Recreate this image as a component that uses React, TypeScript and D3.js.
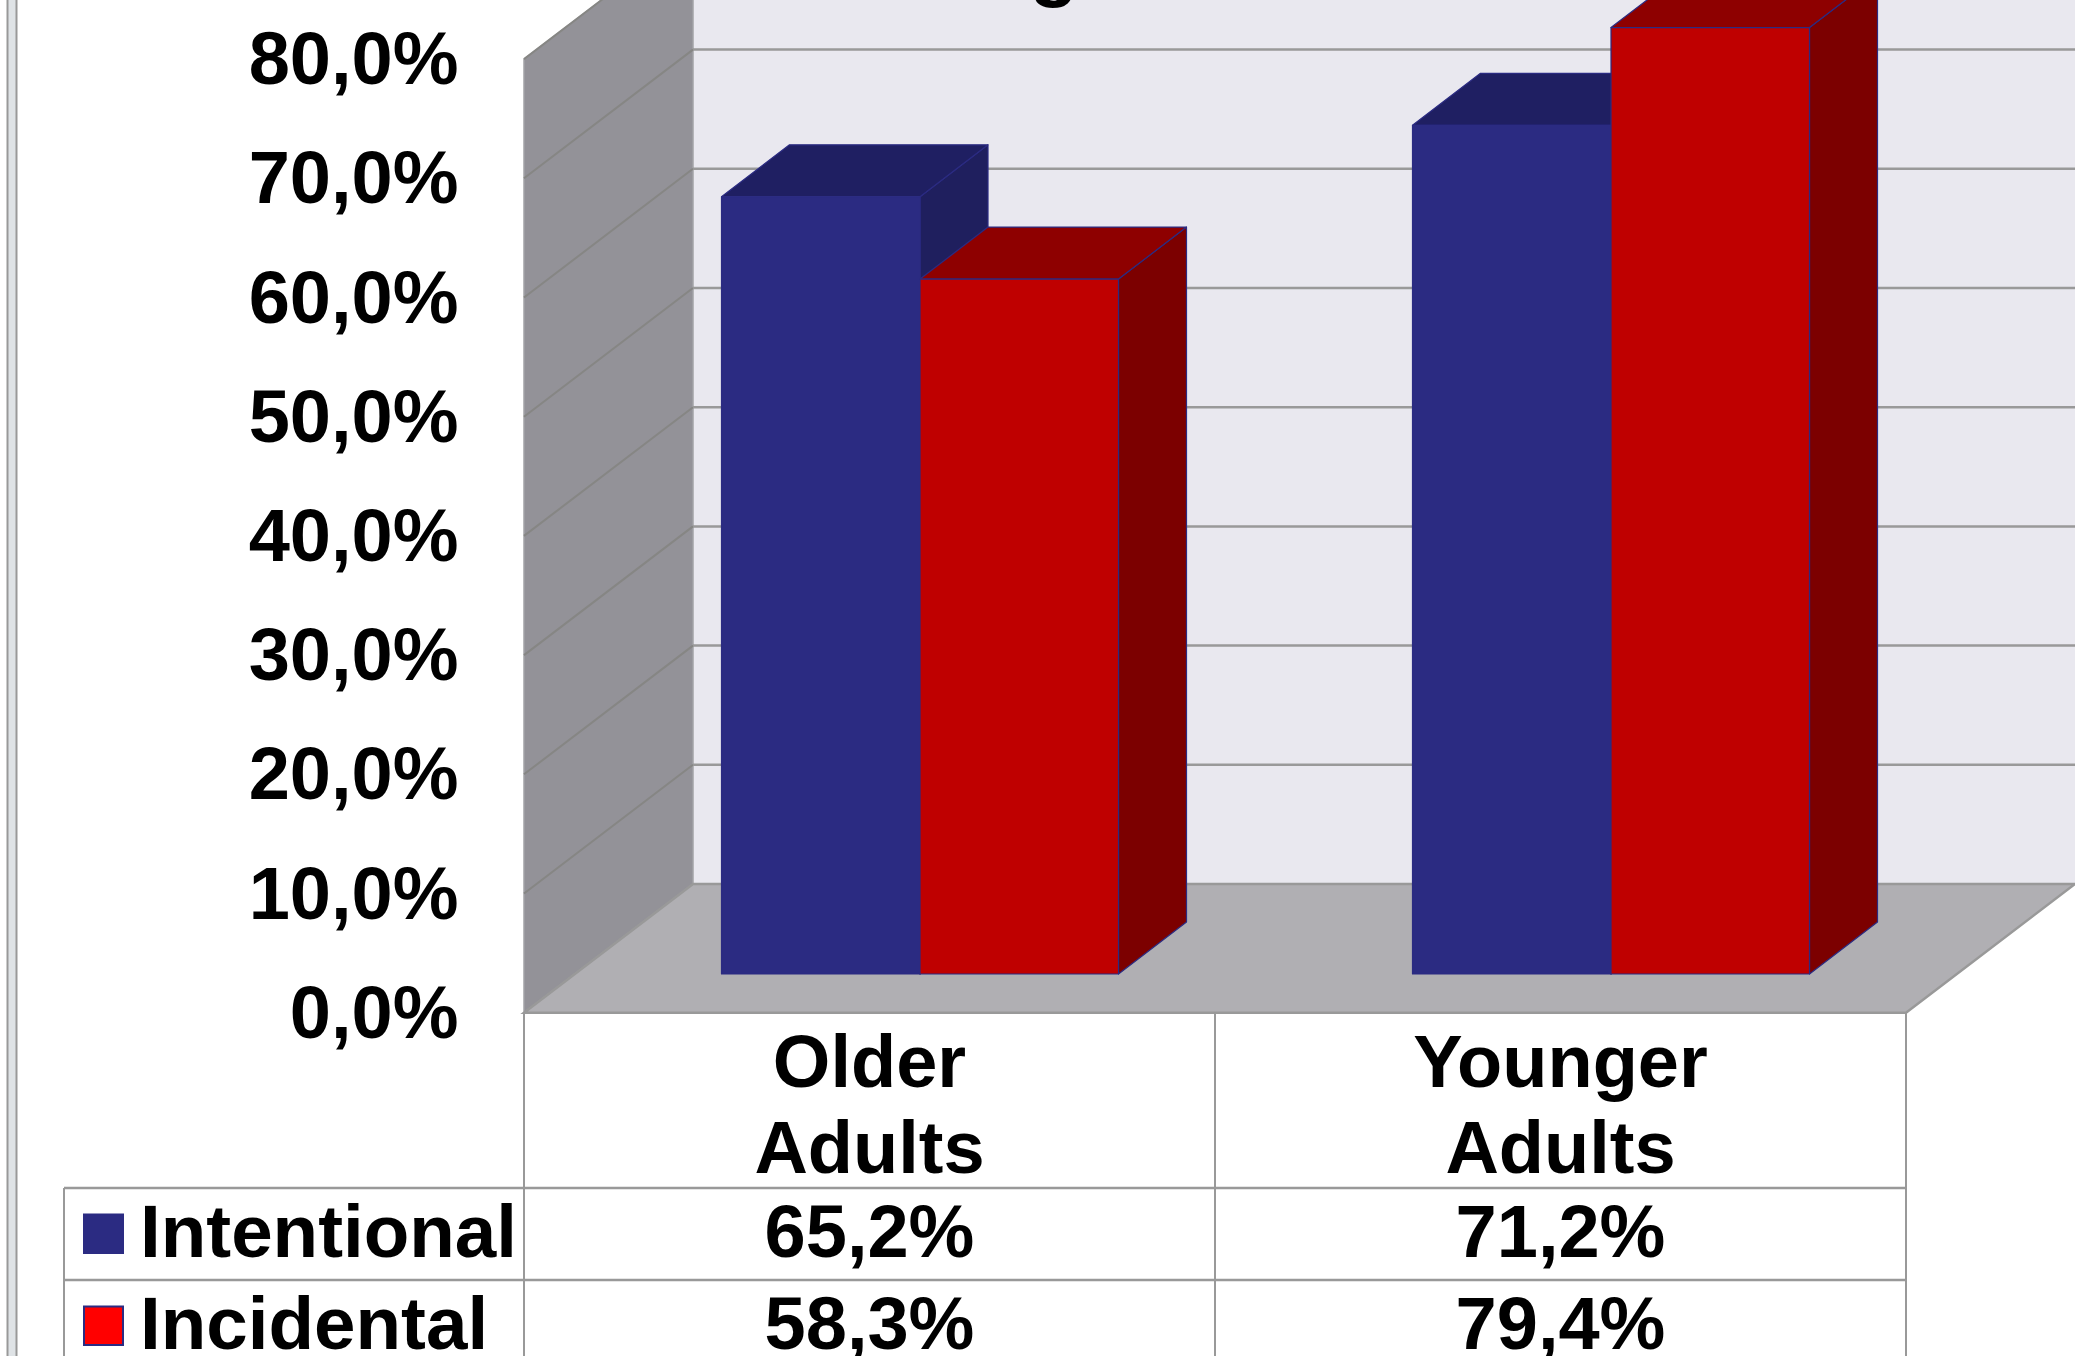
import React from "react";
import * as d3 from "d3";

const categories = [["Older", "Adults"], ["Younger", "Adults"]];
const categoryKeys = ["Older Adults", "Younger Adults"];
const seriesNames = ["Intentional", "Incidental"];
const intentional = [65.2, 71.2];
const incidental = [58.3, 79.4];
const ticks = [0, 10, 20, 30, 40, 50, 60, 70, 80];
const valueLabels = [["65,2%", "71,2%"], ["58,3%", "79,4%"]];

const W = 2075, H = 1356;
const FONT = "'Liberation Sans', Arial, sans-serif";
const FS = 74;
const left = 524, right = 1906, y0 = 1012.7;
const wallDx = 169, wallDy = 128.7;
const barDx = 68, barDy = 52;
const barInset = 38.7, barShift = 50.5, barW = 198.5;
const GRID = "#999999";

const palette = [
  { front: "#2b2b82", top: "#1f1f62", side: "#1f1f5e", key: "#2b2b82" },
  { front: "#bf0000", top: "#8e0000", side: "#7c0000", key: "#ff0000" },
];

const y = d3.scaleLinear().domain([0, 80]).range([y0, y0 - 8 * 119.2]);
const x = d3.scaleBand<string>().domain(categoryKeys).range([left, right]);
const sx = d3.scaleBand<string>().domain(seriesNames).range([-barW, barW]);
const pts = (p: number[][]) => p.map((q) => q.join(",")).join(" ");

function Bar({ cat, si, value }: { cat: string; si: number; value: number }) {
  const c = palette[si];
  const x0 = x(cat)! + x.bandwidth() / 2 + barShift + sx(seriesNames[si])!;
  const x1 = x0 + sx.bandwidth();
  const b = y(0) - barInset;
  const t = y(value) - barInset;
  const stroke = { stroke: "#2b2b82", strokeWidth: 1.2, strokeLinejoin: "round" as const };
  return (
    <g>
      <polygon points={pts([[x1, t], [x1 + barDx, t - barDy], [x1 + barDx, b - barDy], [x1, b]])} fill={c.side} {...stroke} />
      <polygon points={pts([[x0, t], [x0 + barDx, t - barDy], [x1 + barDx, t - barDy], [x1, t]])} fill={c.top} {...stroke} />
      <rect x={x0} y={t} width={x1 - x0} height={b - t} fill={c.front} {...stroke} />
    </g>
  );
}

export default function App() {
  const text = { fontFamily: FONT, fontWeight: 700, fontSize: FS, fill: "#000" };
  const rowY = [1188, 1280];
  const baseY = [1257, 1349];
  return (
    <svg width={W} height={H} viewBox={`0 0 ${W} ${H}`} style={{ position: "absolute", left: 0, top: 0, display: "block", background: "#fff" }}>
      {/* slide frame */}
      <rect x={7.5} y={-2} width={9} height={H + 4} fill="#dfe3e6" stroke="#999" strokeWidth={2} />

      {/* back wall */}
      <rect x={left + wallDx} y={-2} width={W} height={y0 - wallDy + 2} fill="#e9e8ef" />
      {/* left wall */}
      <polygon
        points={pts([[left, y(80)], [left + wallDx, y(80) - wallDy], [left + wallDx, y0 - wallDy], [left, y0]])}
        fill="#939298" stroke="#a3a3a6" strokeWidth={1.5}
      />
      {ticks.slice(1).map((t) => (
        <g key={t}>
          <line x1={left} x2={left + wallDx} y1={y(t)} y2={y(t) - wallDy} stroke="#868684" strokeWidth={2} />
          <line x1={left + wallDx} x2={W} y1={y(t) - wallDy} y2={y(t) - wallDy} stroke={GRID} strokeWidth={2.5} />
        </g>
      ))}
      {/* floor */}
      <polygon
        points={pts([[left, y0], [left + wallDx, y0 - wallDy], [right + wallDx, y0 - wallDy], [right, y0]])}
        fill="#b0afb3" stroke={GRID} strokeWidth={2.5}
      />

      {/* bars */}
      {categoryKeys.map((cat, ci) => (
        <g key={cat}>
          <Bar cat={cat} si={0} value={intentional[ci]} />
          <Bar cat={cat} si={1} value={incidental[ci]} />
        </g>
      ))}

      {/* y-axis labels */}
      {ticks.map((t) => (
        <text key={t} x={458.5} y={y(t) + 25} textAnchor="end" {...text}>
          {d3.format(".1f")(t).replace(".", ",")}%
        </text>
      ))}

      {/* data table grid */}
      <line x1={left} x2={left} y1={y0} y2={H} stroke={GRID} strokeWidth={2} />
      {categoryKeys.map((cat) => (
        <line key={cat} x1={x(cat)! + x.bandwidth()} x2={x(cat)! + x.bandwidth()} y1={y0} y2={H} stroke={GRID} strokeWidth={2} />
      ))}
      <line x1={x(categoryKeys[1])!} x2={x(categoryKeys[1])!} y1={y0} y2={H} stroke={GRID} strokeWidth={2} />
      <line x1={64} x2={64} y1={rowY[0]} y2={H} stroke={GRID} strokeWidth={2} />
      {rowY.map((r) => (
        <line key={r} x1={64} x2={right} y1={r} y2={r} stroke={GRID} strokeWidth={2.5} />
      ))}

      {/* category labels */}
      {categories.map((lines, ci) => {
        const cx = x(categoryKeys[ci])! + x.bandwidth() / 2;
        return lines.map((l, li) => (
          <text key={l + ci} x={cx} y={1087 + li * 85.5} textAnchor="middle" {...text}>{l}</text>
        ));
      })}

      {/* legend keys & series names */}
      {seriesNames.map((s, si) => (
        <g key={s}>
          <rect x={84} y={rowY[si] + 26.5} width={39} height={38.5} fill={palette[si].key} stroke="#2b2b82" strokeWidth={2} />
          <text x={140} y={baseY[si]} {...text} fontSize={74.6}>{s}</text>
        </g>
      ))}

      {/* values */}
      {valueLabels.map((row, si) =>
        row.map((v, ci) => (
          <text key={v} x={x(categoryKeys[ci])! + x.bandwidth() / 2} y={baseY[si]} textAnchor="middle" {...text}>{v}</text>
        ))
      )}

      {/* title, cut off by the top edge */}
      <text x={1054} y={-9} textAnchor="middle" {...text} fontSize={80}>g</text>
    </svg>
  );
}
